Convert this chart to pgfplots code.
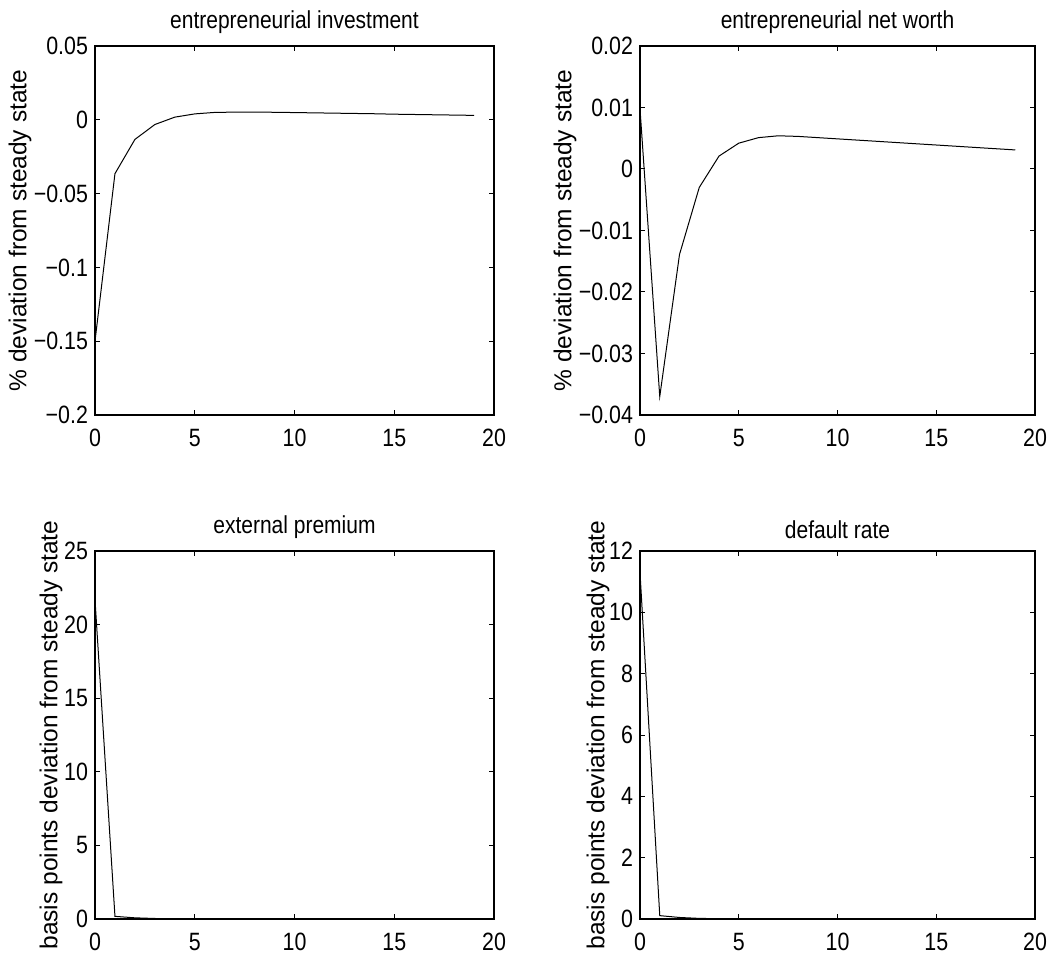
\documentclass[border=0pt]{standalone}
\usepackage{fontspec}
\setmainfont{Liberation Sans}
\usepackage{graphicx}
\usepackage{pgfplots}
\pgfplotsset{compat=1.18}
\newcommand{\vs}[1]{\scalebox{1}[1.17]{#1}}
\pgfplotsset{
  mat/.style={
    scale only axis, height=184.5pt,
    xmin=0, xmax=20, xtick={0,5,10,15,20},
    xticklabel={\vs{\pgfmathprintnumber{\tick}}},
    tick align=inside, tick pos=both, major tick length=2.5pt,
    axis line style={line width=0.8pt},
    tick style={line width=0.5pt, black},
    ticklabel style={font=\fontsize{10.7}{12}\selectfont},
    /pgf/number format/assume math mode=true,
    xticklabel style={yshift=-3.5pt},
    title style={font=\fontsize{10.5}{12}\selectfont, yshift=-3.5pt},
    ylabel style={font=\fontsize{12.25}{14}\selectfont, anchor=center},
    scaled y ticks=false,
  },
  pl/.style={black, line width=0.5pt, mark=none}
}
\begin{document}
\begin{tikzpicture}
\path[use as bounding box] (0,0) rectangle (529.5pt,480pt);
% top left
\begin{axis}[mat, at={(47.5pt,272.5pt)}, anchor=south west, width=199.5pt,
  ymin=-0.2, ymax=0.05,
  ytick={-0.2,-0.15,-0.1,-0.05,0,0.05},
  yticklabels={\vs{−0.2},\vs{−0.15},\vs{−0.1},\vs{−0.05},\vs{0},\vs{0.05}},
  title={\vs{entrepreneurial investment}},
  ylabel={\% deviation from steady state},
  ylabel style={at={(axis description cs:-0.188,0.5)}}]
\addplot[pl] coordinates {(0,-0.150) (1,-0.0365) (2,-0.0133) (3,-0.0032) (4,0.0018) (5,0.0040) (6,0.0050) (7,0.0052) (8,0.0052) (9,0.0051) (10,0.0049) (11,0.0047) (12,0.0045) (13,0.0043) (14,0.0041) (15,0.0038) (16,0.0036) (17,0.0034) (18,0.0032) (19,0.0030)};
\end{axis}
% top right
\begin{axis}[mat, at={(320pt,272.5pt)}, anchor=south west, width=197.5pt,
  ymin=-0.04, ymax=0.02,
  ytick={-0.04,-0.03,-0.02,-0.01,0,0.01,0.02},
  yticklabels={\vs{−0.04},\vs{−0.03},\vs{−0.02},\vs{−0.01},\vs{0},\vs{0.01},\vs{0.02}},
  title={\vs{entrepreneurial net worth}},
  ylabel={\% deviation from steady state},
  ylabel style={at={(axis description cs:-0.19,0.5)}}]
\addplot[pl] coordinates {(0,0.0098) (1,-0.0370) (2,-0.0139) (3,-0.0030) (4,0.0021) (5,0.0042) (6,0.0051) (7,0.0054) (8,0.0053) (9,0.0051) (10,0.0049) (11,0.0047) (12,0.0045) (13,0.0043) (14,0.0041) (15,0.0039) (16,0.0037) (17,0.0035) (18,0.0033) (19,0.0031)};
\end{axis}
% bottom left
\begin{axis}[mat, at={(47.5pt,20.5pt)}, anchor=south west, width=199.5pt, height=184pt,
  ymin=0, ymax=25,
  ytick={0,5,10,15,20,25},
  yticklabels={\vs{0},\vs{5},\vs{10},\vs{15},\vs{20},\vs{25}},
  title={\vs{external premium}},
  ylabel={basis points deviation from steady state},
  ylabel style={at={(axis description cs:-0.11,0.5)}}]
\addplot[pl] coordinates {(0,21.7) (1,0.18) (2,0.08) (3,0.035) (4,0.015) (5,0.006) (6,0.003) (7,0.001) (8,0) (9,0) (10,0) (11,0) (12,0) (13,0) (14,0) (15,0) (16,0) (17,0) (18,0) (19,0)};
\end{axis}
% bottom right
\begin{axis}[mat, at={(320pt,20.5pt)}, anchor=south west, width=197.5pt, height=184pt,
  ymin=0, ymax=12,
  ytick={0,2,4,6,8,10,12},
  yticklabels={\vs{0},\vs{2},\vs{4},\vs{6},\vs{8},\vs{10},\vs{12}},
  title={\vs{default rate}},
  ylabel={basis points deviation from steady state},
  ylabel style={at={(axis description cs:-0.106,0.5)}}]
\addplot[pl] coordinates {(0,11.3) (1,0.11) (2,0.05) (3,0.02) (4,0.01) (5,0.004) (6,0.002) (7,0.001) (8,0) (9,0) (10,0) (11,0) (12,0) (13,0) (14,0) (15,0) (16,0) (17,0) (18,0) (19,0)};
\end{axis}
\end{tikzpicture}
\end{document}
